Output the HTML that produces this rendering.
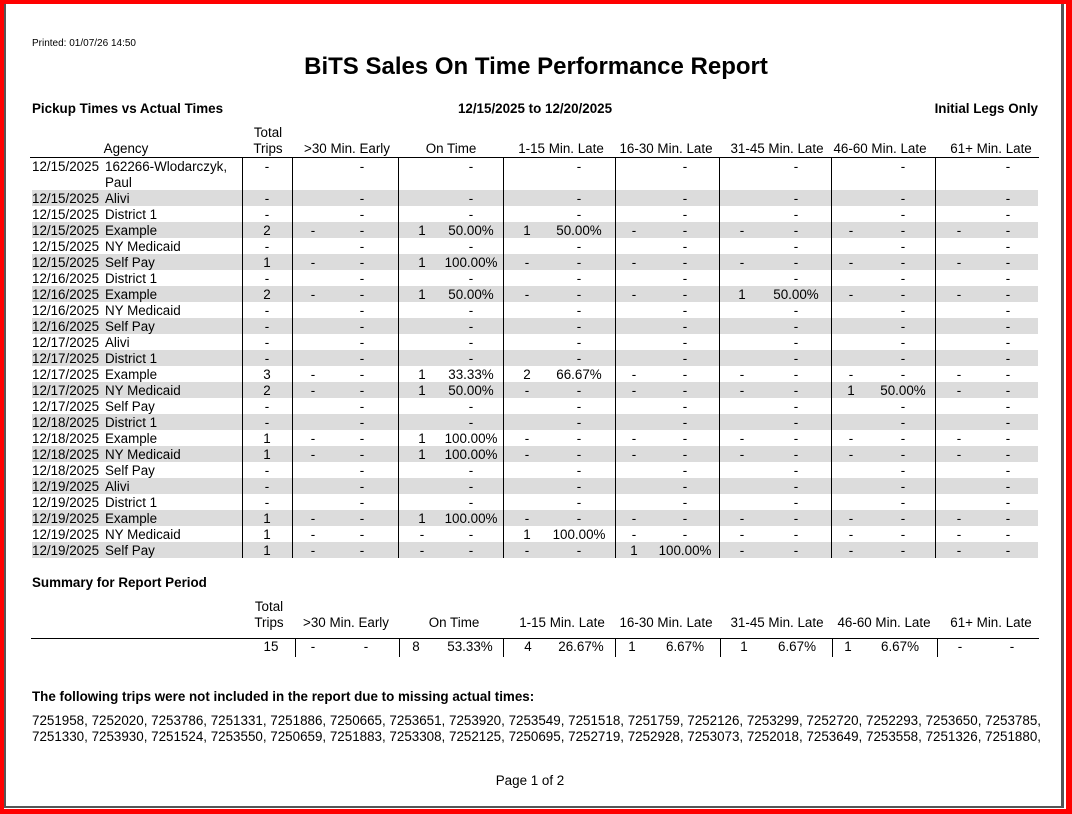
<!DOCTYPE html>
<html><head><meta charset="utf-8"><style>
html,body{margin:0;padding:0}
body{width:1072px;height:814px;position:relative;overflow:hidden;background:#fff;font-family:"Liberation Sans",Arial,sans-serif;color:#000}
.frame{position:absolute;left:0;top:0;width:1072px;height:814px;box-sizing:border-box;border-style:solid;border-color:#f00;border-width:4px 6px 5px 4px}
.inner{position:absolute;left:4px;top:4px;width:1060px;height:804px;box-sizing:border-box;border-left:2px solid #555;border-right:3px solid #555;border-bottom:2px solid #555}
.t{position:absolute;white-space:nowrap;font-size:13.4px;line-height:16px}
.c{transform:translateX(-50%)}
.b{font-weight:bold}
.g{position:absolute;left:32px;width:1006px;height:16px;background:#dcdcdc}
.vl{position:absolute;width:1px;background:#000}
.hl{position:absolute;height:1px;background:#000}
</style></head><body>
<div class="frame"></div><div class="inner"></div>
<div class="t" style="left:32px;top:37px;font-size:10px;line-height:14px">Printed: 01/07/26 14:50</div>
<div class="t b c" style="left:536px;top:53px;font-size:24px;line-height:28px">BiTS Sales On Time Performance Report</div>
<div class="t b" style="left:32px;top:101px">Pickup Times vs Actual Times</div>
<div class="t b c" style="left:535px;top:101px">12/15/2025 to 12/20/2025</div>
<div class="t b" style="right:34px;top:101px">Initial Legs Only</div>
<div id="root"></div>
<script>
var R=document.getElementById('root'),h='';
function T(x,y,s,cls){if(cls===undefined)cls='c';h+='<div class="t '+cls+'" style="left:'+x+'px;top:'+(y+1)+'px">'+s+'</div>';}
var heads=[[126,'Agency'],[347,'&gt;30 Min. Early'],[451,'On Time'],[561,'1-15 Min. Late'],[666,'16-30 Min. Late'],[777,'31-45 Min. Late'],[880,'46-60 Min. Late'],[991,'61+ Min. Late']];
heads.forEach(function(a){T(a[0],140,a[1]);});
T(268,124,'Total');T(268,140,'Trips');
h+='<div class="hl" style="left:30px;top:157px;width:1009px"></div>';
[242,292,398,503,615,719,831,935].forEach(function(x){h+='<div class="vl" style="left:'+x+'px;top:158px;height:400px"></div>';});
var cc=[313,422,527,634,742,851,959],pc=[362,471,579,685,796,903,1008];
var rows=[
['12/15/2025','Alivi'],['12/15/2025','District 1'],['12/15/2025','Example',2,{1:['1','50.00%'],2:['1','50.00%']}],['12/15/2025','NY Medicaid'],['12/15/2025','Self Pay',1,{1:['1','100.00%']}],
['12/16/2025','District 1'],['12/16/2025','Example',2,{1:['1','50.00%'],4:['1','50.00%']}],['12/16/2025','NY Medicaid'],['12/16/2025','Self Pay'],
['12/17/2025','Alivi'],['12/17/2025','District 1'],['12/17/2025','Example',3,{1:['1','33.33%'],2:['2','66.67%']}],['12/17/2025','NY Medicaid',2,{1:['1','50.00%'],5:['1','50.00%']}],['12/17/2025','Self Pay'],
['12/18/2025','District 1'],['12/18/2025','Example',1,{1:['1','100.00%']}],['12/18/2025','NY Medicaid',1,{1:['1','100.00%']}],['12/18/2025','Self Pay'],
['12/19/2025','Alivi'],['12/19/2025','District 1'],['12/19/2025','Example',1,{1:['1','100.00%']}],['12/19/2025','NY Medicaid',1,{2:['1','100.00%']}],['12/19/2025','Self Pay',1,{3:['1','100.00%']}]];
T(32,158,'12/15/2025','');T(105,158,'162266-Wlodarczyk,','');T(105,174,'Paul','');
T(267,158,'-');for(var i=0;i<7;i++)T(pc[i],158,'-');
var hb='';
rows.forEach(function(r,k){var y=190+k*16;
 if(k%2==0)hb+='<div class="g" style="top:'+y+'px"></div>';
 T(32,y,r[0],'');T(105,y,r[1],'');
 if(r[2]==null){T(267,y,'-');for(var i=0;i<7;i++)T(pc[i],y,'-');}
 else{T(267,y,String(r[2]));for(var i=0;i<7;i++){var v=r[3][i]||['-','-'];T(cc[i],y,v[0]);T(pc[i],y,v[1]);}}
});
h=hb+h;
T(32,574,'<b>Summary for Report Period</b>','');
T(269,598,'Total');T(269,614,'Trips');
[[346,'&gt;30 Min. Early'],[454,'On Time'],[562,'1-15 Min. Late'],[666,'16-30 Min. Late'],[777,'31-45 Min. Late'],[884,'46-60 Min. Late'],[991,'61+ Min. Late']].forEach(function(a){T(a[0],614,a[1]);});
h+='<div class="hl" style="left:31px;top:638px;width:1008px"></div>';
[295,399,503,615,720,832,937].forEach(function(x){h+='<div class="vl" style="left:'+x+'px;top:638px;height:19px"></div>';});
T(271,638,'15');
var sc=[313,416,528,632,744,848,960],sp=[366,470,581,685,797,900,1012],sv=[['-','-'],['8','53.33%'],['4','26.67%'],['1','6.67%'],['1','6.67%'],['1','6.67%'],['-','-']];
for(var i=0;i<7;i++){T(sc[i],638,sv[i][0]);T(sp[i],638,sv[i][1]);}
T(32,688,'<b>The following trips were not included in the report due to missing actual times:</b>','');
T(32,712,'7251958, 7252020, 7253786, 7251331, 7251886, 7250665, 7253651, 7253920, 7253549, 7251518, 7251759, 7252126, 7253299, 7252720, 7252293, 7253650, 7253785,','');
T(32,728,'7251330, 7253930, 7251524, 7253550, 7250659, 7251883, 7253308, 7252125, 7250695, 7252719, 7252928, 7253073, 7252018, 7253649, 7253558, 7251326, 7251880,','');
T(530,772,'Page 1 of 2');
R.innerHTML=h;
</script>
</body></html>
